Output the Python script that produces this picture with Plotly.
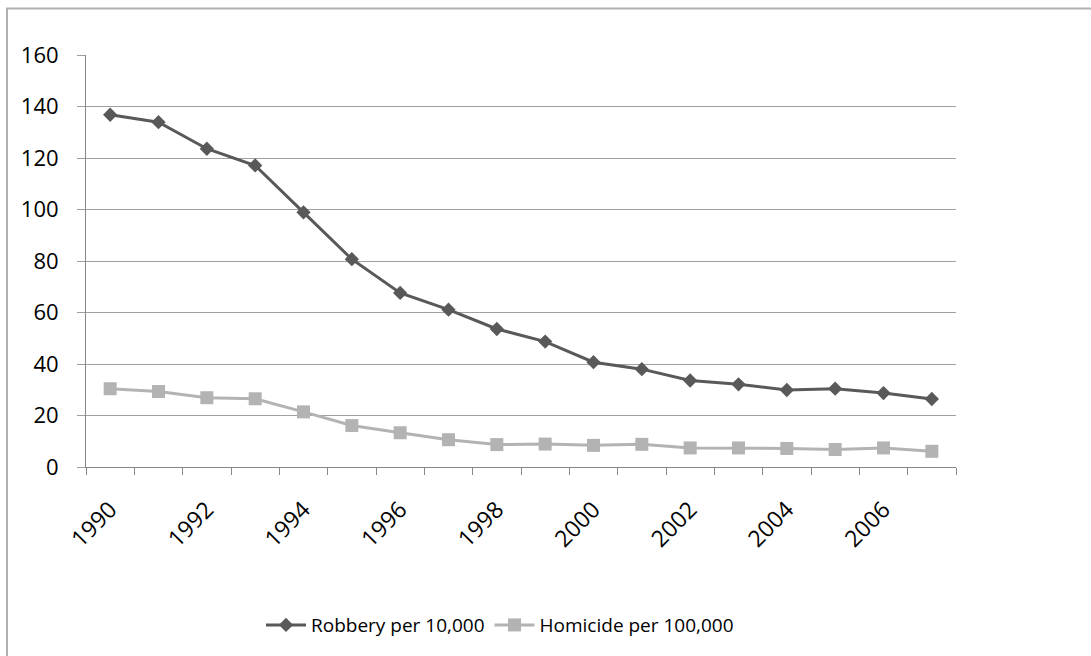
import plotly.graph_objects as go

# Annual rates, 1990-2007
years = list(range(1990, 2008))
robbery_per_10k = [136.8, 133.9, 123.6, 117.1, 98.9, 80.7, 67.6, 61.1, 53.6, 48.7,
                   40.7, 38.0, 33.6, 32.1, 29.9, 30.4, 28.7, 26.4]
homicide_per_100k = [30.4, 29.3, 26.9, 26.5, 21.4, 16.1, 13.3, 10.6, 8.7, 8.9,
                     8.4, 8.8, 7.4, 7.4, 7.2, 6.8, 7.4, 6.1]
x_labels = [str(y) for y in years[::2]]
y_ticks = [0, 20, 40, 60, 80, 100, 120, 140, 160]

FONT = "Open Sans"
W, H = 1091, 656
L, R, T, B = 86, 956, 55, 472  # plot area in pixels

fig = go.Figure()
fig.add_trace(go.Scatter(
    x=years, y=robbery_per_10k, name="Robbery per 10,000",
    mode="lines+markers",
    line=dict(color="#595959", width=3),
    marker=dict(symbol="diamond", size=11, color="#595959"),
))
fig.add_trace(go.Scatter(
    x=years, y=homicide_per_100k, name="Homicide per 100,000",
    mode="lines+markers",
    line=dict(color="#b3b3b3", width=3),
    marker=dict(symbol="square", size=13, color="#b3b3b3"),
))
# invisible trace that carries the boundary tick marks on the second x axis
fig.add_trace(go.Scatter(x=[years[0]], y=[None], xaxis="x2", showlegend=False,
                         hoverinfo="skip"))

x_range = [years[0] - 0.5, years[-1] + 0.5]
fig.update_layout(
    width=W, height=H,
    margin=dict(l=L, r=W - R, t=T, b=H - B, pad=0),
    paper_bgcolor="white", plot_bgcolor="white",
    font=dict(family=FONT, size=19, color="black"),
    xaxis=dict(
        range=x_range, tickmode="array", tickvals=years[::2], ticktext=x_labels,
        tickangle=-45, ticks="", showgrid=False, zeroline=False,
        showline=True, linecolor="#868686", linewidth=1,
        ticklabelstandoff=19,
        tickfont=dict(family=FONT, size=23, color="black"),
    ),
    xaxis2=dict(
        overlaying="x", matches="x", range=x_range, side="bottom",
        tickmode="array", tickvals=[y - 0.5 for y in years] + [years[-1] + 0.5],
        showticklabels=False, ticks="outside", ticklen=7, tickcolor="#868686",
        tickwidth=1, showgrid=False, zeroline=False, showline=False,
    ),
    yaxis=dict(
        range=[0, 160], tickmode="array", tickvals=y_ticks,
        ticks="outside", ticklen=8, tickcolor="#a0a0a0", tickwidth=1,
        showgrid=True, gridcolor="#a0a0a0", gridwidth=1, zeroline=False,
        showline=True, linecolor="#868686", linewidth=1,
        ticklabelstandoff=14,
        tickfont=dict(family=FONT, size=22, color="black"),
    ),
    legend=dict(
        orientation="h", x=(500 - L) / (R - L), xanchor="center",
        y=(B - 632) / (B - T), yanchor="middle",
        font=dict(family=FONT, size=19, color="black"), itemwidth=40,
        bgcolor="rgba(0,0,0,0)",
    ),
    shapes=[dict(
        type="rect", xref="paper", yref="paper",
        x0=(7 - L) / (R - L), x1=1.3, y0=-1.0, y1=(B - 8) / (B - T),
        line=dict(color="#b0b0b0", width=2), fillcolor="rgba(0,0,0,0)",
        layer="below",
    )],
    showlegend=True,
)

fig.write_html("out.html")
